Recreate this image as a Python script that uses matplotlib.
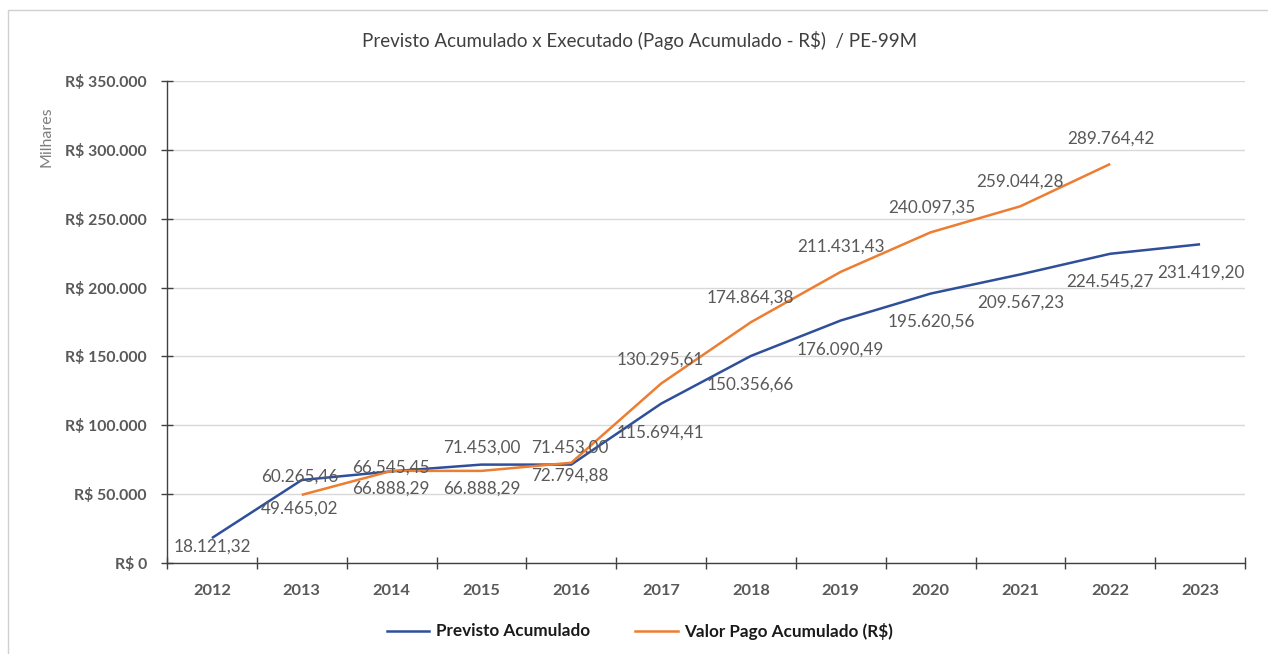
import matplotlib
matplotlib.use("Agg")
import matplotlib.pyplot as plt
from matplotlib.lines import Line2D
from matplotlib.patches import Rectangle

plt.rcParams['font.family'] = ['Lato', 'DejaVu Sans']

# ---- data ----
years = ["2012", "2013", "2014", "2015", "2016", "2017", "2018", "2019", "2020", "2021", "2022", "2023"]
previsto = [18121.32, 60265.46, 66545.45, 71453.00, 71453.00, 115694.41, 150356.66,
            176090.49, 195620.56, 209567.23, 224545.27, 231419.20]
pago_years = ["2013", "2014", "2015", "2016", "2017", "2018", "2019", "2020", "2021", "2022"]
pago = [49465.02, 66888.29, 66888.29, 72794.88, 130295.61, 174864.38, 211431.43,
        240097.35, 259044.28, 289764.42]
yticks = [0, 50000, 100000, 150000, 200000, 250000, 300000, 350000]

title = "Previsto Acumulado x Executado (Pago Acumulado - R$)  / PE-99M"
name_prev = "Previsto Acumulado"
name_pago = "Valor Pago Acumulado (R$)"

# label offsets in pixels (dx, dy; positive dy = down)
off_prev = [(0, 9), (-2, -3), (-1, -4), (0, -17), (-1, -17), (-1, 29), (-1, 29),
            (0, 29), (1, 28), (0, 28), (0, 28), (1, 28)]
off_pago = [(-2, 14), (-1, 18), (0, 18), (-1, 13), (-1, -24), (-1, -25), (0, -25),
            (1, -25), (0, -25), (1, -25)]

BLUE = "#2F4F9A"
ORANGE = "#ED7D31"
LBL = "#595959"


def br(v):
    s = f"{v:,.2f}"
    return s.replace(",", "X").replace(".", ",").replace("X", ".")


def br_tick(v):
    if v == 0:
        return "R$ 0"
    return "R$ " + f"{int(v):,}".replace(",", ".")


W, H = 1268, 654
fig = plt.figure(figsize=(W / 100, H / 100), dpi=100)
ax = fig.add_axes([167 / W, 1 - 563 / H, (1245 - 167) / W, (563 - 81) / H])

xi = {y: i for i, y in enumerate(years)}
xp = list(range(len(years)))
xo = [xi[y] for y in pago_years]

ax.plot(xp, previsto, color=BLUE, lw=1.8, solid_capstyle='butt', zorder=3)
ax.plot(xo, pago, color=ORANGE, lw=1.8, solid_capstyle='butt', zorder=3)

for x, v, (dx, dy) in zip(xp, previsto, off_prev):
    ax.annotate(br(v), (x, v), xytext=(dx, -dy), textcoords='offset pixels',
                ha='center', va='center', fontsize=12.3, color=LBL, zorder=4)
for x, v, (dx, dy) in zip(xo, pago, off_pago):
    ax.annotate(br(v), (x, v), xytext=(dx, -dy), textcoords='offset pixels',
                ha='center', va='center', fontsize=12.3, color=LBL, zorder=4)

ax.set_xlim(-0.5, len(years) - 0.5)
ax.set_ylim(0, 350000)
ax.set_yticks(yticks)
ax.set_yticklabels([br_tick(v) for v in yticks], fontsize=11.3, fontweight='bold', color=LBL)
ax.set_xticks(xp)
ax.set_xticklabels(years, fontsize=11.8, fontweight='bold', color=LBL)
ax.set_xticks([i - 0.5 for i in range(len(years) + 1)], minor=True)
ax.tick_params(axis='x', which='major', length=0, pad=15)
ax.tick_params(axis='x', which='minor', direction='inout', length=9, width=1, color='#404040')
ax.tick_params(axis='y', direction='inout', length=9, width=1, color='#404040', pad=10)

ax.grid(axis='y', color='#d9d9d9', lw=1)
ax.set_axisbelow(True)
for s in ['top', 'right']:
    ax.spines[s].set_visible(False)
for s in ['left', 'bottom']:
    ax.spines[s].set_color('#404040')
    ax.spines[s].set_linewidth(1)

fig.text(47 / W, 1 - 137 / H, "Milhares", rotation=90, ha='center', va='center',
         fontsize=11.5, color='#7f7f7f')
fig.text(640 / W, 1 - 41 / H, title, ha='center', va='center', fontsize=13.5, color='#404040')

handles = [Line2D([], [], color=BLUE, lw=1.8), Line2D([], [], color=ORANGE, lw=1.8)]
fig.legend(handles, [name_prev, name_pago], loc='center', bbox_to_anchor=(640 / W, 1 - 631 / H),
           ncol=2, frameon=False, prop={'weight': 'bold', 'size': 12.3}, handlelength=2.5,
           handletextpad=0.4, columnspacing=2.6, labelcolor='#1a1a1a')

fig.patches.append(Rectangle((8 / W, -0.1), 1.2, 1 - 10 / H + 0.1, transform=fig.transFigure,
                             fill=False, edgecolor='#d0d0d0', lw=1))

fig.savefig("out.png", dpi=100)
